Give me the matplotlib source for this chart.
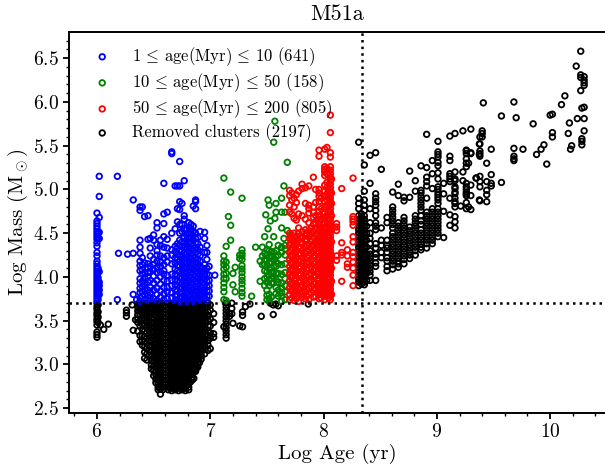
import numpy as np
import matplotlib
matplotlib.use('Agg')
import matplotlib.pyplot as plt

plt.rcParams['font.family'] = ['cmr10', 'DejaVu Sans']
plt.rcParams['mathtext.fontset'] = 'cm'
plt.rcParams['axes.formatter.use_mathtext'] = True

# each age goes with one list of masses
blue_ages = [6.0, 6.01, 6.02, 6.18, 6.19, 6.27, 6.32, 6.35, 6.38, 6.4, 6.42, 6.45, 6.47, 6.5, 6.53, 6.56, 6.59, 6.62,
             6.66, 6.69, 6.71, 6.73, 6.75, 6.77, 6.79, 6.81, 6.83, 6.85, 6.87, 6.89, 6.91, 6.93, 6.95, 6.97, 6.99, 7.04]
blue_mass = [
    [4.73, 4.64, 4.61, 4.58, 4.55, 4.52, 4.49, 4.46, 4.43, 4.39, 4.35, 4.28, 4.24, 4.18, 4.15, 4.12, 4.09, 4.06, 4.03, 4.0, 3.97, 3.94, 3.91, 3.88, 3.85, 3.82, 3.79, 3.76, 3.73],
    [4.5, 4.44, 4.1, 4.05, 3.99, 3.95, 3.9, 3.86, 3.83, 3.78, 3.74],
    [5.15, 4.92, 4.68, 4.51, 4.44, 4.06, 3.94, 3.9, 3.85, 3.8],
    [5.15, 3.74],
    [4.27],
    [4.26],
    [4.88, 4.27, 3.8],
    [3.74],
    [4.8, 4.76, 4.42, 4.34, 4.27, 4.18, 4.13, 4.07, 3.98, 3.93, 3.87, 3.82, 3.76, 3.72],
    [4.8, 4.22, 4.14, 4.08, 4.03, 3.95, 3.89, 3.83, 3.78],
    [4.69, 4.16, 4.05, 3.99, 3.92, 3.86, 3.8, 3.74],
    [4.7, 4.43, 4.15, 4.1, 4.05, 4.0, 3.94, 3.85, 3.79, 3.73],
    [4.44, 4.33, 4.24, 4.12, 4.06, 3.96, 3.88, 3.82, 3.76],
    [4.48, 4.42, 4.2, 4.14, 4.08, 4.01, 3.93, 3.85, 3.75],
    [4.62, 4.56, 4.37, 4.3, 4.25, 4.18, 4.11, 4.05, 3.96, 3.87, 3.8, 3.73],
    [4.42, 4.36, 4.24, 4.17, 4.12, 4.06, 4.0, 3.92, 3.84, 3.77],
    [5.07, 4.72, 4.61, 4.46, 4.34, 4.22, 4.14, 4.07, 4.03, 3.96, 3.88, 3.81, 3.74],
    [4.74, 4.43, 4.33, 4.24, 4.17, 4.02, 3.95, 3.88, 3.83, 3.75],
    [5.43, 5.41, 4.5, 4.31, 4.25, 4.15, 4.03, 3.96, 3.9, 3.82, 3.76],
    [5.04, 4.55, 4.35, 4.29, 4.22, 4.16, 4.09, 4.02, 3.97, 3.91, 3.85, 3.79, 3.73],
    [5.04, 4.78, 4.63, 4.38, 4.33, 4.26, 4.2, 4.13, 4.07, 4.02, 3.95, 3.9, 3.84, 3.79, 3.73],
    [5.32, 5.04, 4.86, 4.77, 4.6, 4.5, 4.42, 4.36, 4.3, 4.24, 4.18, 4.12, 4.06, 4.0, 3.94, 3.88, 3.82, 3.76, 3.72],
    [4.84, 4.6, 4.52, 4.4, 4.35, 4.3, 4.25, 4.2, 4.15, 4.09, 4.04, 3.99, 3.93, 3.88, 3.82, 3.77, 3.72],
    [5.1, 4.7, 4.66, 4.55, 4.45, 4.4, 4.34, 4.28, 4.22, 4.17, 4.11, 4.06, 4.01, 3.95, 3.9, 3.85, 3.79, 3.74],
    [4.54, 4.48, 4.42, 4.37, 4.32, 4.26, 4.21, 4.15, 4.1, 4.04, 3.99, 3.93, 3.88, 3.82, 3.77, 3.72],
    [4.62, 4.57, 4.5, 4.45, 4.4, 4.34, 4.29, 4.23, 4.18, 4.12, 4.07, 4.01, 3.96, 3.9, 3.85, 3.8, 3.74],
    [4.6, 4.55, 4.49, 4.44, 4.38, 4.32, 4.27, 4.21, 4.16, 4.1, 4.05, 3.99, 3.94, 3.88, 3.83, 3.78, 3.73],
    [4.81, 4.58, 4.52, 4.47, 4.42, 4.36, 4.3, 4.25, 4.19, 4.14, 4.08, 4.03, 3.97, 3.92, 3.86, 3.81, 3.76, 3.72],
    [4.88, 4.86, 4.78, 4.5, 4.44, 4.39, 4.33, 4.28, 4.22, 4.17, 4.11, 4.06, 4.0, 3.95, 3.89, 3.84, 3.79, 3.74],
    [4.45, 4.38, 4.31, 4.26, 4.2, 4.15, 4.09, 4.04, 3.98, 3.93, 3.87, 3.82, 3.77, 3.73],
    [4.52, 4.34, 4.24, 4.18, 4.12, 4.07, 4.01, 3.96, 3.9, 3.85, 3.8, 3.75],
    [4.1, 4.04, 3.99, 3.94, 3.88, 3.83, 3.78, 3.73],
    [4.51, 4.44, 4.28, 4.14, 4.07, 4.02, 3.97, 3.91, 3.86, 3.81, 3.76],
    [4.36, 4.28, 4.2, 4.1, 4.03, 3.95, 3.89, 3.84, 3.78, 3.73],
    [4.12, 4.02, 3.96, 3.9, 3.84, 3.78],
    [4.02],
]

green_ages = [7.12, 7.14, 7.16, 7.18, 7.2, 7.22, 7.26, 7.28, 7.365, 7.4, 7.44, 7.46, 7.48, 7.49, 7.5, 7.51, 7.52, 7.53,
              7.54, 7.56, 7.57, 7.58, 7.6, 7.63, 7.65, 7.66, 7.68]
green_mass = [
    [5.13, 4.24, 4.18, 4.14, 4.09, 4.03, 3.98, 3.93, 3.88, 3.83, 3.74],
    [4.35, 4.17, 4.11, 4.04, 3.98, 3.73],
    [4.69],
    [4.97, 4.59, 4.42],
    [4.04, 3.91],
    [4.11, 3.83],
    [4.25, 4.21],
    [4.9, 4.31, 4.27, 4.24, 4.2, 4.13, 4.09, 4.05, 4.0, 3.96, 3.92, 3.87, 3.82, 3.78],
    [3.78],
    [4.34],
    [4.18, 3.95],
    [4.34, 4.24, 4.14],
    [4.46, 4.27, 4.2, 4.14, 4.07, 3.98, 3.9],
    [4.71],
    [4.31, 4.25, 4.19, 4.13, 4.06, 4.0, 3.94, 3.85, 3.79, 3.74],
    [4.88, 4.55],
    [4.82, 4.37, 4.3, 4.22, 4.16, 4.09, 4.02, 3.97, 3.9, 3.8, 3.75, 3.72],
    [4.64],
    [4.29, 4.24, 4.17, 4.1, 4.05, 3.98, 3.93, 3.77],
    [5.54, 4.46, 4.28, 4.2, 4.12, 4.06, 4.0, 3.93],
    [5.78, 4.67],
    [4.84, 4.74, 4.3, 4.23, 4.17, 4.12, 4.04, 3.97, 3.88, 3.81],
    [4.36, 4.25, 4.15, 4.04, 3.94, 3.85, 3.78],
    [4.9, 4.74, 4.56, 4.34, 4.28, 4.14, 4.03, 3.93, 3.87, 3.82, 3.78, 3.72],
    [5.04, 4.44],
    [4.74, 4.36, 4.32, 4.25, 4.15, 4.05, 3.98, 3.9, 3.83, 3.74],
    [5.31, 4.53],
]

red_ages = [7.7, 7.71, 7.72, 7.74, 7.75, 7.76, 7.78, 7.8, 7.81, 7.84, 7.85, 7.87, 7.89, 7.91, 7.93, 7.945, 7.96, 7.98,
            7.995, 8.01, 8.03, 8.045, 8.06, 8.07, 8.115, 8.16, 8.21, 8.26]
red_mass = [
    [4.99, 4.93, 4.82, 4.74, 4.5, 4.44, 4.36, 4.28, 4.2, 4.12, 4.04, 3.96, 3.88, 3.8, 3.74],
    [4.46, 4.39, 4.31, 4.24, 4.16, 4.08, 4.0, 3.92, 3.84],
    [4.96, 4.88, 4.72, 4.48, 4.42, 4.33, 4.25, 4.17, 4.09, 4.01, 3.93, 3.85, 3.76],
    [4.9, 4.8, 4.67, 4.5, 4.42, 4.36, 4.28, 4.2, 4.12, 4.04, 3.96, 3.88, 3.8, 3.73],
    [4.44, 4.34, 4.26, 4.18, 4.1, 4.02, 3.92, 3.84],
    [4.94, 4.85, 4.65, 4.46, 4.38, 4.3, 4.22, 4.14, 4.06, 3.98, 3.9, 3.82, 3.75],
    [4.98, 4.72, 4.56, 4.5, 4.42, 4.34, 4.26, 4.18, 4.1, 4.02, 3.94, 3.86, 3.78, 3.72],
    [4.47, 4.4, 4.33, 4.26, 4.18, 4.11, 4.03, 3.95, 3.88, 3.8],
    [5.06, 5.01, 4.7, 4.52, 4.44, 4.38, 4.3, 4.22, 4.15, 4.07, 3.99, 3.91, 3.84, 3.77],
    [5.02, 4.84, 4.66, 4.54, 4.47, 4.41, 4.34, 4.27, 4.2, 4.13, 4.05, 3.97, 3.9, 3.83, 3.75],
    [4.5, 4.43, 4.37, 4.3, 4.23, 4.16, 4.09, 4.01, 3.93, 3.86, 3.78],
    [5.04, 4.82, 4.78, 4.73, 4.62, 4.53, 4.46, 4.38, 4.31, 4.24, 4.16, 4.09, 4.02, 3.94, 3.87, 3.8, 3.74],
    [4.56, 4.49, 4.41, 4.34, 4.27, 4.19, 4.11, 4.03, 3.96, 3.89, 3.82],
    [5.14, 4.8, 4.74, 4.68, 4.6, 4.52, 4.45, 4.37, 4.3, 4.22, 4.15, 4.07, 4.0, 3.92, 3.85, 3.77],
    [5.0, 4.85, 4.7, 4.62, 4.55, 4.48, 4.4, 4.32, 4.24, 4.17, 4.09, 4.01, 3.93, 3.86, 3.78],
    [4.66, 4.56, 4.49, 4.43, 4.36, 4.29, 4.2, 4.13, 4.05, 3.97, 3.9, 3.83],
    [5.45, 5.38, 5.0, 4.96, 4.92, 4.86, 4.8, 4.75, 4.7, 4.64, 4.58, 4.52, 4.46, 4.4, 4.34, 4.28, 4.22, 4.16, 4.1, 4.04, 3.98, 3.92, 3.86, 3.8, 3.75],
    [4.9, 4.78, 4.66, 4.56, 4.49, 4.43, 4.36, 4.3, 4.24, 4.18, 4.12, 4.06, 4.0, 3.94, 3.88, 3.82, 3.76],
    [4.72, 4.6, 4.53, 4.47, 4.41, 4.35, 4.27, 4.21, 4.15, 4.09, 4.03, 3.97, 3.91, 3.85, 3.79],
    [5.46, 5.26, 5.23, 5.2, 5.16, 5.05, 4.98, 4.92, 4.86, 4.8, 4.74, 4.68, 4.62, 4.56, 4.5, 4.44, 4.38, 4.32, 4.26, 4.2, 4.14, 4.08, 4.02, 3.96, 3.9, 3.84, 3.78, 3.74],
    [5.48, 5.24, 5.18, 5.08, 5.02, 4.95, 4.88, 4.82, 4.7, 4.6, 4.52, 4.46, 4.4, 4.34, 4.28, 4.22, 4.16, 4.1, 4.04, 3.98, 3.92, 3.86, 3.8],
    [4.98, 4.9, 4.83, 4.75, 4.67, 4.6, 4.53, 4.46, 4.38, 4.31, 4.25, 4.18, 4.11, 4.04, 3.97, 3.9, 3.83, 3.76],
    [5.85, 5.65, 5.42, 5.37, 5.26, 5.22, 5.18, 5.14, 5.1, 5.06, 5.02, 4.98, 4.94, 4.9, 4.86, 4.82, 4.78, 4.74, 4.7, 4.66, 4.62, 4.58, 4.54, 4.5, 4.46, 4.42, 4.38, 4.34, 4.3, 4.26, 4.22, 4.18, 4.14, 4.1, 4.06, 4.02, 3.98, 3.94, 3.9, 3.86, 3.82, 3.78, 3.74],
    [5.12, 4.96, 4.84, 4.7, 4.55, 4.4, 4.25, 4.1, 3.95, 3.8],
    [4.61, 4.57, 4.53, 4.24, 4.19],
    [5.01, 4.39, 4.28, 4.25, 3.95],
    [4.31, 4.24, 4.15, 4.11],
    [5.13, 4.69, 4.66, 4.63, 4.59, 4.46, 4.4, 4.28, 4.23, 4.17, 4.1, 4.02, 3.9],
]

black_ages = [6.0, 6.01, 6.03, 6.06, 6.1, 6.26, 6.31, 6.32, 6.34, 6.36, 6.38, 6.4, 6.42, 6.44, 6.46, 6.48, 6.5, 6.52,
              6.54, 6.56, 6.58, 6.63, 6.66, 6.69, 6.72, 6.75, 6.78, 6.81, 6.84, 6.87, 6.89, 6.92, 6.95, 6.98, 7.0, 7.03]
black_mass = [
    [3.7, 3.66, 3.63, 3.59, 3.56, 3.52, 3.49, 3.45, 3.37, 3.34, 3.31],
    [3.68, 3.6, 3.54, 3.48],
    [3.45],
    [3.4],
    [3.46],
    [3.62, 3.59, 3.55],
    [3.68],
    [3.39],
    [3.51],
    [3.69, 3.65, 3.61, 3.57, 3.52, 3.48, 3.38],
    [3.7, 3.66, 3.62, 3.56, 3.5, 3.44, 3.33, 3.26],
    [3.69, 3.64, 3.59, 3.53, 3.46, 3.4, 3.33, 3.27, 3.22],
    [3.7, 3.66, 3.61, 3.56, 3.5, 3.45, 3.38, 3.32, 3.26, 3.2, 3.14, 3.07],
    [3.68, 3.63, 3.58, 3.53, 3.48, 3.42, 3.36, 3.3, 3.24, 3.18, 3.12, 3.05],
    [3.7, 3.65, 3.6, 3.55, 3.5, 3.44, 3.39, 3.33, 3.27, 3.21, 3.16, 3.1],
    [3.69, 3.64, 3.59, 3.53, 3.48, 3.42, 3.37, 3.31, 3.26, 3.21, 3.15, 3.1, 3.05, 2.99, 2.95],
    [3.7, 3.66, 3.61, 3.57, 3.52, 3.47, 3.43, 3.38, 3.33, 3.28, 3.23, 3.18, 3.13, 3.08, 3.03, 2.98, 2.93, 2.87],
    [3.69, 3.65, 3.6, 3.56, 3.51, 3.47, 3.42, 3.38, 3.33, 3.29, 3.24, 3.2, 3.15, 3.11, 3.06, 3.02, 2.97, 2.92, 2.88, 2.83, 2.79],
    [3.7, 3.66, 3.62, 3.58, 3.54, 3.5, 3.46, 3.42, 3.38, 3.34, 3.3, 3.26, 3.22, 3.18, 3.14, 3.1, 3.06, 3.02, 2.98, 2.94, 2.9, 2.86, 2.82, 2.78, 2.74, 2.71],
    [3.69, 3.65, 3.61, 3.57, 3.53, 3.49, 3.45, 3.41, 3.37, 3.33, 3.29, 3.25, 3.21, 3.17, 3.13, 3.09, 3.05, 3.01, 2.97, 2.93, 2.89, 2.85, 2.81, 2.77, 2.72, 2.66],
    [3.7, 3.66, 3.62, 3.58, 3.54, 3.5, 3.46, 3.42, 3.38, 3.34, 3.3, 3.26, 3.22, 3.18, 3.14, 3.1, 3.06, 3.02, 2.98, 2.94, 2.9, 2.86, 2.82, 2.78, 2.74, 2.71],
    [3.7, 3.66, 3.62, 3.58, 3.54, 3.5, 3.46, 3.42, 3.38, 3.34, 3.3, 3.26, 3.22, 3.18, 3.14, 3.1, 3.06, 3.02, 2.98, 2.94, 2.9, 2.86, 2.82, 2.78, 2.74, 2.71],
    [3.69, 3.65, 3.61, 3.57, 3.53, 3.49, 3.45, 3.41, 3.37, 3.33, 3.29, 3.25, 3.21, 3.17, 3.13, 3.09, 3.05, 3.01, 2.97, 2.93, 2.89, 2.85, 2.81, 2.77, 2.73, 2.7],
    [3.7, 3.66, 3.62, 3.58, 3.54, 3.5, 3.46, 3.42, 3.38, 3.34, 3.3, 3.26, 3.22, 3.18, 3.14, 3.1, 3.06, 3.02, 2.98, 2.94, 2.9, 2.86, 2.82, 2.78, 2.74, 2.71],
    [3.69, 3.65, 3.61, 3.57, 3.53, 3.49, 3.45, 3.41, 3.37, 3.33, 3.29, 3.25, 3.21, 3.17, 3.13, 3.09, 3.05, 3.01, 2.97, 2.93, 2.89, 2.85, 2.81, 2.77, 2.73, 2.7],
    [3.7, 3.66, 3.62, 3.58, 3.54, 3.5, 3.46, 3.42, 3.38, 3.34, 3.3, 3.26, 3.22, 3.18, 3.14, 3.1, 3.06, 3.02, 2.98, 2.94, 2.9, 2.86, 2.82, 2.78, 2.74, 2.71],
    [3.69, 3.65, 3.61, 3.57, 3.53, 3.49, 3.45, 3.41, 3.37, 3.33, 3.29, 3.25, 3.21, 3.17, 3.13, 3.09, 3.05, 3.01, 2.97, 2.93, 2.89, 2.85, 2.81, 2.77, 2.73, 2.7],
    [3.7, 3.66, 3.62, 3.58, 3.54, 3.5, 3.46, 3.42, 3.38, 3.34, 3.3, 3.26, 3.22, 3.18, 3.14, 3.1, 3.06, 3.02, 2.98, 2.94, 2.9, 2.86, 2.82, 2.78, 2.74, 2.71],
    [3.69, 3.65, 3.61, 3.57, 3.53, 3.49, 3.45, 3.41, 3.37, 3.33, 3.29, 3.25, 3.21, 3.17, 3.13, 3.09, 3.05, 3.01, 2.97, 2.93, 2.89, 2.85, 2.82],
    [3.7, 3.66, 3.62, 3.58, 3.54, 3.5, 3.46, 3.42, 3.38, 3.34, 3.3, 3.26, 3.22, 3.18, 3.14, 3.1, 3.06, 3.02, 2.98, 2.94, 2.92],
    [3.69, 3.65, 3.61, 3.57, 3.53, 3.49, 3.45, 3.41, 3.37, 3.33, 3.29, 3.25, 3.21, 3.17, 3.13, 3.09, 3.05, 3.01, 2.97],
    [3.7, 3.66, 3.62, 3.58, 3.54, 3.5, 3.46, 3.42, 3.38, 3.34, 3.3, 3.26, 3.22, 3.18, 3.14, 3.1, 3.06],
    [3.69, 3.65, 3.61, 3.57, 3.53, 3.49, 3.45, 3.41, 3.37, 3.33, 3.29, 3.25, 3.21, 3.17, 3.12],
    [3.7, 3.66, 3.6, 3.55, 3.5, 3.44, 3.38, 3.33, 3.27, 3.22, 3.16],
    [3.68, 3.62, 3.52, 3.44, 3.36, 3.3, 3.18],
    [3.58, 3.48, 3.35, 3.31],
]

# the solid part of the young black cloud, in between the columns above
fill_ages = [6.525, 6.555, 6.645, 6.675, 6.705, 6.735, 6.765, 6.795, 6.825, 6.855, 6.88, 6.905]
fill_mass = [
    [3.68, 3.6, 3.52, 3.44, 3.36, 3.28, 3.2, 3.12, 3.04, 2.96, 2.88],
    [3.68, 3.6, 3.52, 3.44, 3.36, 3.28, 3.2, 3.12, 3.04, 2.96, 2.88, 2.8, 2.74],
    [3.68, 3.6, 3.52, 3.44, 3.36, 3.28, 3.2, 3.12, 3.04, 2.96, 2.88, 2.8, 2.73],
    [3.64, 3.56, 3.48, 3.4, 3.32, 3.24, 3.16, 3.08, 3.0, 2.92, 2.84, 2.76],
    [3.68, 3.6, 3.52, 3.44, 3.36, 3.28, 3.2, 3.12, 3.04, 2.96, 2.88, 2.8, 2.73],
    [3.64, 3.56, 3.48, 3.4, 3.32, 3.24, 3.16, 3.08, 3.0, 2.92, 2.84, 2.76],
    [3.68, 3.6, 3.52, 3.44, 3.36, 3.28, 3.2, 3.12, 3.04, 2.96, 2.88, 2.8, 2.73],
    [3.64, 3.56, 3.48, 3.4, 3.32, 3.24, 3.16, 3.08, 3.0, 2.92, 2.84, 2.76],
    [3.68, 3.6, 3.52, 3.44, 3.36, 3.28, 3.2, 3.12, 3.04, 2.96, 2.88, 2.8],
    [3.64, 3.56, 3.48, 3.4, 3.32, 3.24, 3.16, 3.08, 3.0, 2.92, 2.84],
    [3.68, 3.6, 3.52, 3.44, 3.36, 3.28, 3.2, 3.12, 3.04, 2.96],
    [3.64, 3.56, 3.48, 3.4, 3.32, 3.24, 3.16, 3.08, 3.02],
]

black2_ages = [7.12, 7.14, 7.17, 7.19, 7.2, 7.26, 7.285, 7.31, 7.35, 7.45, 7.53, 7.556, 7.58, 7.6, 7.865]
black2_mass = [
    [3.43],
    [3.7, 3.66, 3.62, 3.58, 3.54, 3.5, 3.46, 3.42, 3.38, 3.34, 3.3],
    [3.58, 3.55],
    [3.7, 3.64, 3.58],
    [3.47],
    [3.44],
    [3.6, 3.56, 3.43],
    [3.66],
    [3.69],
    [3.55],
    [3.7],
    [3.68, 3.57],
    [3.69],
    [3.67],
    [3.69],
]

old_ages = [8.31, 8.335, 8.36, 8.38, 8.41, 8.46, 8.51, 8.56, 8.61, 8.66, 8.71, 8.76, 8.81, 8.86, 8.91, 8.96, 9.01, 9.06,
            9.115, 9.16, 9.21, 9.23, 9.26, 9.28, 9.3, 9.345, 9.35, 9.375, 9.38, 9.4, 9.41, 9.44, 9.48, 9.57, 9.68, 9.7,
            9.76, 9.85, 9.88, 9.92, 9.945, 9.97, 10.0, 10.02, 10.1, 10.13, 10.16, 10.17, 10.18, 10.19, 10.23, 10.24,
            10.27, 10.28, 10.3]
old_mass = [
    [5.54, 4.9, 4.84, 4.78, 4.7, 4.66, 4.62, 4.58, 4.54, 4.5, 4.46, 4.42, 4.38, 4.34, 4.3, 4.26, 4.22, 4.18, 4.14, 4.1, 4.06, 4.02, 3.98, 3.94, 3.9],
    [4.72, 4.68, 4.64, 4.6, 4.56, 4.52, 4.48, 4.44, 4.4, 4.36, 4.32, 4.28, 4.24, 4.2, 4.16, 4.12, 4.08, 4.04, 4.0, 3.96, 3.92],
    [5.28, 4.98, 4.88, 4.82, 4.76, 4.7, 4.66, 4.62, 4.58, 4.54, 4.5, 4.46, 4.42, 4.38, 4.34, 4.3, 4.26, 4.22, 4.18, 4.14, 4.1, 4.06, 4.02, 3.98, 3.94, 3.91],
    [4.58, 4.5, 4.42, 4.34, 4.26, 4.2, 4.12, 4.04, 3.96],
    [5.39, 5.07, 4.78, 4.62, 4.5, 4.44, 4.38, 4.3, 4.26, 4.22, 4.18, 4.14, 4.1, 4.06, 4.02, 3.96],
    [5.42, 4.95, 4.9, 4.86, 4.82, 4.76, 4.7, 4.62, 4.58, 4.54, 4.38, 4.33, 4.26, 4.22, 4.16, 4.12, 3.96],
    [5.23, 4.56, 4.42, 4.36, 4.28, 4.22],
    [4.68, 4.62, 4.42, 4.36, 4.33, 4.28, 4.22, 4.18, 4.12, 4.07],
    [4.97, 4.8, 4.76, 4.72, 4.68, 4.64, 4.6, 4.56, 4.5, 4.46, 4.42, 4.38, 4.34, 4.3, 4.26, 4.22, 4.18, 4.14, 4.09],
    [5.06, 4.93, 4.62, 4.58, 4.54, 4.5, 4.46, 4.42, 4.38, 4.34, 4.3, 4.26, 4.22, 4.18, 4.15, 4.11],
    [4.91, 4.87, 4.68, 4.64, 4.6, 4.56, 4.52, 4.48, 4.44, 4.4, 4.36, 4.32, 4.28, 4.24, 4.2, 4.15],
    [5.21, 4.91, 4.57, 4.53, 4.49, 4.45, 4.41, 4.37, 4.33, 4.29, 4.25, 4.21],
    [5.1, 4.98, 4.7, 4.66, 4.62, 4.58, 4.54, 4.5, 4.46, 4.42, 4.38, 4.34, 4.3, 4.25],
    [5.27, 4.99, 4.96, 4.92, 4.88, 4.84, 4.8, 4.76, 4.7, 4.64, 4.6, 4.54, 4.5, 4.46, 4.42, 4.38, 4.34, 4.31],
    [5.63, 5.25, 5.14, 5.09, 5.04, 4.9, 4.74, 4.7, 4.66, 4.62, 4.58, 4.54, 4.5, 4.46, 4.42, 4.38, 4.33],
    [5.33, 5.18, 5.01, 4.78, 4.74, 4.7, 4.66, 4.62, 4.58, 4.54, 4.5, 4.46, 4.42, 4.38],
    [5.55, 5.43, 5.4, 5.37, 5.31, 5.27, 5.19, 5.12, 5.03, 5.0, 4.97, 4.94, 4.91, 4.88, 4.84, 4.78, 4.74, 4.7, 4.66, 4.62, 4.58, 4.54, 4.5, 4.46],
    [5.07, 4.95, 4.75, 4.45],
    [5.61, 5.38, 5.33, 5.18, 5.15, 5.12, 5.09, 4.9, 4.71, 4.59],
    [5.64, 5.2, 5.12, 5.1, 5.03, 5.01, 4.97, 4.95, 4.9, 4.86, 4.84, 4.8, 4.69, 4.63, 4.56],
    [4.81],
    [5.67, 5.2, 5.1],
    [5.45, 5.41, 5.44, 5.35, 5.3, 5.26, 5.07, 5.03, 5.0, 4.97, 4.95, 4.93, 4.85, 4.78],
    [5.3, 4.8],
    [5.69, 5.42, 5.41, 5.05, 4.93, 4.77],
    [5.13],
    [5.13],
    [4.88, 5.52, 5.4],
    [5.6, 5.52, 5.44, 5.41, 5.38, 5.15, 5.09, 5.03, 4.87],
    [5.67, 5.64, 5.6],
    [5.99],
    [5.3, 5.09, 4.99, 4.94, 4.86],
    [5.46, 5.17, 5.07, 5.04],
    [5.84, 5.08],
    [6.0, 5.47, 5.38, 5.35, 5.33],
    [5.82],
    [5.46],
    [5.75],
    [5.4],
    [5.46],
    [5.51],
    [5.29],
    [5.85],
    [5.86, 5.65, 5.6],
    [5.97],
    [6.07],
    [5.64],
    [5.76],
    [5.46],
    [5.5],
    [6.41],
    [5.81],
    [6.58, 6.31, 6.28, 6.13],
    [5.93, 5.58, 5.55, 5.51],
    [6.29, 6.25, 6.22, 6.19, 5.94, 5.81, 5.67],
]

legend_labels = [r'1$\,\leq\,$age(Myr)$\,\leq\,$10 (641)',
                 r'10$\,\leq\,$age(Myr)$\,\leq\,$50 (158)',
                 r'50$\,\leq\,$age(Myr)$\,\leq\,$200 (805)',
                 'Removed clusters (2197)']
mass_limit = 3.7
age_limit = 8.34


def flat(ages, masses):
    x = []
    y = []
    for a, m in zip(ages, masses):
        for v in m:
            x.append(a)
            y.append(v)
    return x, y


fig = plt.figure(figsize=(6.05, 4.70), dpi=100)
ax = fig.add_axes([69 / 605, 1 - 412.5 / 470, 537 / 605, 380.5 / 470])

kw = dict(s=16, facecolors='none', linewidths=1.3)
x, y = flat(black_ages + fill_ages + black2_ages + old_ages, black_mass + fill_mass + black2_mass + old_mass)
h4 = ax.scatter(x, y, edgecolors='k', zorder=2, **kw)
x, y = flat(blue_ages, blue_mass)
h1 = ax.scatter(x, y, edgecolors='b', zorder=3, **kw)
x, y = flat(green_ages, green_mass)
h2 = ax.scatter(x, y, edgecolors='g', zorder=3, **kw)
x, y = flat(red_ages, red_mass)
h3 = ax.scatter(x, y, edgecolors='r', zorder=3, **kw)

ax.axhline(mass_limit, color='k', ls=':', lw=1.8, zorder=4)
ax.axvline(age_limit, color='k', ls=':', lw=1.8, zorder=4)

ax.set_xlim(5.753, 10.493)
ax.set_ylim(2.45, 6.80)
ax.set_xticks([6, 7, 8, 9, 10])
ax.set_xticks(np.arange(5.8, 10.5, 0.2), minor=True)
ax.set_yticks([2.5, 3.0, 3.5, 4.0, 4.5, 5.0, 5.5, 6.0, 6.5])
ax.set_yticks(np.arange(2.5, 6.8, 0.1), minor=True)
ax.tick_params(axis='both', which='major', length=4, width=1.3, labelsize=14, pad=3.5)
ax.tick_params(axis='both', which='minor', length=2, width=1.0)
ax.spines['right'].set_visible(False)
for s in ['left', 'top', 'bottom']:
    ax.spines[s].set_linewidth(1.4)

ax.set_xlabel('Log Age (yr)', fontsize=15, labelpad=2)
ax.set_ylabel(r'Log Mass (M$_\odot$)', fontsize=15, labelpad=2)
ax.set_title('M51a', fontsize=16, pad=9)

ax.legend([h1, h2, h3, h4], legend_labels, loc='upper left', frameon=False, fontsize=12,
          scatterpoints=1, handletextpad=0.8, labelspacing=0.2, borderaxespad=0.4,
          bbox_to_anchor=(0.006, 1.0))

plt.savefig('out.png', dpi=100)
